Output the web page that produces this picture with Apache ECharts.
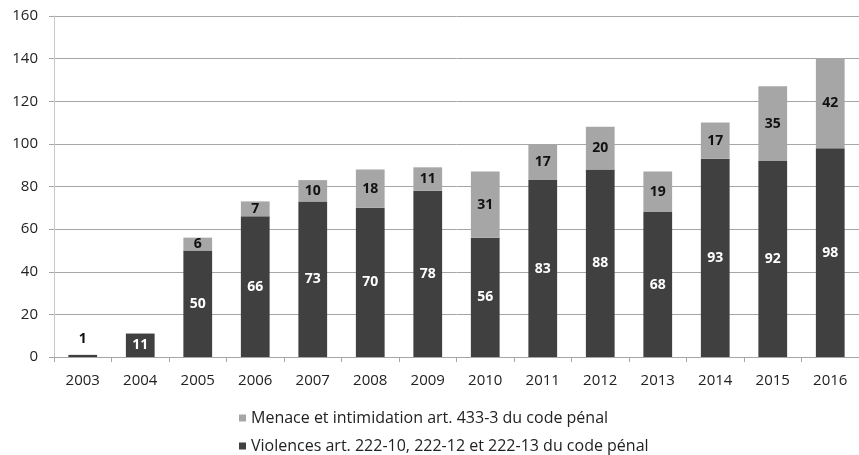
<!DOCTYPE html>
<html>
<head>
<meta charset="utf-8">
<script src="https://cdn.jsdelivr.net/npm/echarts@6/dist/echarts.min.js"></script>
<style>
  html, body { margin: 0; padding: 0; background: #fff; }
  #chart { width: 859px; height: 455px; }
</style>
</head>
<body>
<div id="chart"></div>
<script>
// données
var annees = ["2003", "2004", "2005", "2006", "2007", "2008", "2009", "2010", "2011", "2012", "2013", "2014", "2015", "2016"];
var violences = [1, 11, 50, 66, 73, 70, 78, 56, 83, 88, 68, 93, 92, 98];
var menaces = [0, 0, 6, 7, 10, 18, 11, 31, 17, 20, 19, 17, 35, 42];
var nomViolences = "Violences art. 222-10, 222-12 et 222-13 du code pénal";
var nomMenaces = "Menace et intimidation art. 433-3 du code pénal";

var police = "'Open Sans', sans-serif";
var chart = echarts.init(document.getElementById("chart"));

// petite barre : étiquette au-dessus
var dataViolences = violences.map(function (v) {
  if (v < 5) {
    return { value: v, label: { position: "top", distance: 9, color: "#111" } };
  }
  return v;
});

var option = {
  animation: false,
  textStyle: { fontFamily: police },
  grid: { left: 54, right: -4, top: 16, bottom: 98 },
  legend: [
    {
      data: [nomMenaces],
      left: 234,
      top: 405,
      icon: "rect",
      itemWidth: 7,
      itemHeight: 7,
      itemGap: 0,
      textStyle: { fontFamily: police, fontSize: 16, color: "#222" },
    },
    {
      data: [nomViolences],
      left: 234,
      top: 433,
      icon: "rect",
      itemWidth: 7,
      itemHeight: 7,
      itemGap: 0,
      textStyle: { fontFamily: police, fontSize: 16, color: "#222" },
    },
  ],
  xAxis: {
    type: "category",
    data: annees,
    axisLine: { lineStyle: { color: "#a6a6a6" } },
    axisTick: { show: true, length: 5, lineStyle: { color: "#a6a6a6" } },
    axisLabel: { color: "#222", fontSize: 15, margin: 16 },
  },
  yAxis: {
    type: "value",
    min: 0,
    max: 160,
    interval: 20,
    axisLine: { show: true, lineStyle: { color: "#c8c8c8" } },
    axisTick: { show: true, length: 5, lineStyle: { color: "#a6a6a6" } },
    axisLabel: { color: "#222", fontSize: 15, margin: 16 },
    splitLine: { lineStyle: { color: "#a6a6a6" } },
  },
  series: [
    {
      name: nomViolences,
      type: "bar",
      stack: "total",
      barWidth: "50%",
      itemStyle: { color: "#404040" },
      label: {
        show: true,
        position: "inside",
        color: "#fff",
        fontWeight: "bold",
        fontSize: 14,
      },
      data: dataViolences,
    },
    {
      name: nomMenaces,
      type: "bar",
      stack: "total",
      barWidth: "50%",
      itemStyle: { color: "#a6a6a6" },
      label: {
        show: true,
        position: "inside",
        color: "#111",
        fontWeight: "bold",
        fontSize: 14,
        formatter: function (p) {
          return p.value ? p.value : "";
        },
      },
      data: menaces,
    },
  ],
};
chart.setOption(option);
</script>
</body>
</html>
